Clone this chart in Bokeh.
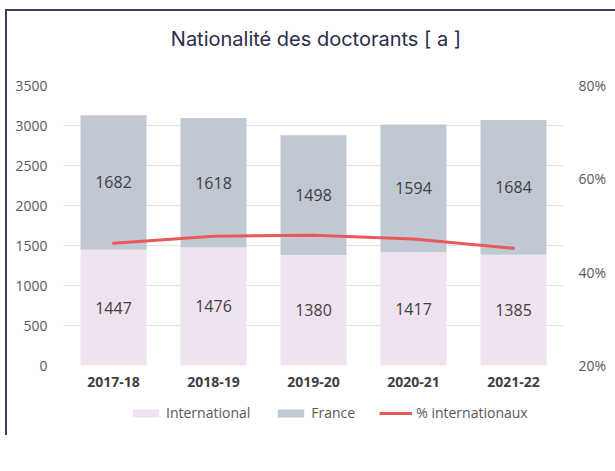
from bokeh.plotting import figure
from bokeh.layouts import column
from bokeh.models import (ColumnDataSource, FactorRange, Range1d, LinearAxis, FixedTicker,
                          PrintfTickFormatter, Legend, LegendItem, LabelSet, Label)
from bokeh.core.properties import value
from bokeh.embed import file_html
from bokeh.resources import INLINE

years = ["2017-18", "2018-19", "2019-20", "2020-21", "2021-22"]
international = [1447, 1476, 1380, 1417, 1385]
france = [1682, 1618, 1498, 1594, 1684]
pct_internationaux = [46.2, 47.7, 47.9, 47.1, 45.1]
left_ticks = [0, 500, 1000, 1500, 2000, 2500, 3000, 3500]
right_ticks = [20, 40, 60, 80]
title_text = "Nationalité des doctorants [ a ]"
legend_labels = ["International", "France", "% internationaux"]

C_INT = "#efe3f0"
C_FR = "#c0c8d4"
C_LINE = "#e8585c"
TICK_COLOR = "#595959"
LABEL_COLOR = "#404040"
W = 608

top = [a + b for a, b in zip(international, france)]
src = ColumnDataSource(dict(
    x=years, intl=international, fr=france, top=top,
    intl_mid=[a / 2 for a in international],
    fr_mid=[a + b / 2 for a, b in zip(international, france)],
    intl_txt=[str(v) for v in international],
    fr_txt=[str(v) for v in france],
    pct=pct_internationaux,
))

def blank_fig(h):
    f = figure(width=W, height=h, x_range=Range1d(0, W), y_range=Range1d(0, h),
               x_axis_type=None, y_axis_type=None, output_backend="svg", toolbar_location=None,
               min_border=0)
    f.outline_line_color = None
    f.background_fill_color = "white"
    f.border_fill_color = "white"
    return f

# title
tf = blank_fig(64)
tf.add_layout(Label(x=307, y=37, text=title_text, text_align="center", text_baseline="middle",
                    text_font="Inter", text_font_size="20px", text_color="#2b2d4a"))

# main chart
p = figure(x_range=FactorRange(*years, range_padding=0), y_range=Range1d(0, 3500),
           width=W, height=320, output_backend="svg", toolbar_location=None,
           min_border_left=56, min_border_right=52, min_border_top=10, min_border_bottom=30)
p.outline_line_color = None
p.background_fill_color = "white"
p.border_fill_color = "white"
p.extra_y_ranges = {"pct": Range1d(20, 80)}

p.vbar(x="x", bottom=0, top="intl", width=0.66, source=src, fill_color=C_INT, line_color=None)
p.vbar(x="x", bottom="intl", top="top", width=0.66, source=src, fill_color=C_FR, line_color=None)
p.line(x="x", y="pct", source=src, y_range_name="pct", line_color=C_LINE, line_width=3,
       line_join="round", line_cap="round")

for col, ycol in (("intl_txt", "intl_mid"), ("fr_txt", "fr_mid")):
    p.add_layout(LabelSet(x="x", y=ycol, text=col, source=src, text_align="center",
                          text_baseline="middle", text_font=value("Open Sans"),
                          text_font_size="16px", text_color=LABEL_COLOR))

def style_axis(ax, standoff, bold=False):
    ax.axis_line_color = None
    ax.major_tick_line_color = None
    ax.minor_tick_line_color = None
    ax.major_tick_out = 0
    ax.major_tick_in = 0
    ax.minor_tick_out = 0
    ax.minor_tick_in = 0
    ax.major_label_standoff = standoff
    ax.major_label_text_font = "Open Sans"
    ax.major_label_text_font_size = "14px"
    ax.major_label_text_font_style = "bold" if bold else "normal"
    ax.major_label_text_color = LABEL_COLOR if bold else TICK_COLOR

ya = p.yaxis[0]
ya.ticker = FixedTicker(ticks=left_ticks)
style_axis(ya, 16)

ra = LinearAxis(y_range_name="pct", ticker=FixedTicker(ticks=right_ticks),
                formatter=PrintfTickFormatter(format="%d%%"))
style_axis(ra, 15)
p.add_layout(ra, "right")

style_axis(p.xaxis[0], 11, bold=True)

p.xgrid.grid_line_color = None
p.ygrid.ticker = FixedTicker(ticks=left_ticks)
p.ygrid.grid_line_color = "#e3e3e3"
p.ygrid.grid_line_width = 1

# legend (proxy glyphs of zero size, only their styles are shown in the legend)
lf = blank_fig(40)
g1 = lf.vbar(x=[0], top=[0], width=0, fill_color=C_INT, line_color=None)
g2 = lf.vbar(x=[0], top=[0], width=0, fill_color=C_FR, line_color=None)
g3 = lf.line(x=[0, 0], y=[0, 0], line_color=C_LINE, line_width=3)
legend = Legend(items=[LegendItem(label=lab, renderers=[r])
                       for lab, r in zip(legend_labels, [g1, g2, g3])],
                orientation="horizontal", location=(66, 13))
legend.glyph_width = 33
legend.glyph_height = 10
legend.label_standoff = 4
legend.spacing = 24
legend.padding = 0
legend.margin = 0
legend.border_line_color = None
legend.background_fill_alpha = 0
legend.label_text_font = "Open Sans"
legend.label_text_font_size = "14px"
legend.label_text_color = TICK_COLOR
legend.label_height = 18
lf.add_layout(legend, "center")

layout = column(tf, p, lf, spacing=0)
layout.styles = {"border-top": "2px solid #3b3e5e", "border-left": "2px solid #3b3e5e",
                 "margin-left": "5px", "margin-top": "9px"}

open("out.html", "w").write(file_html(layout, INLINE))
